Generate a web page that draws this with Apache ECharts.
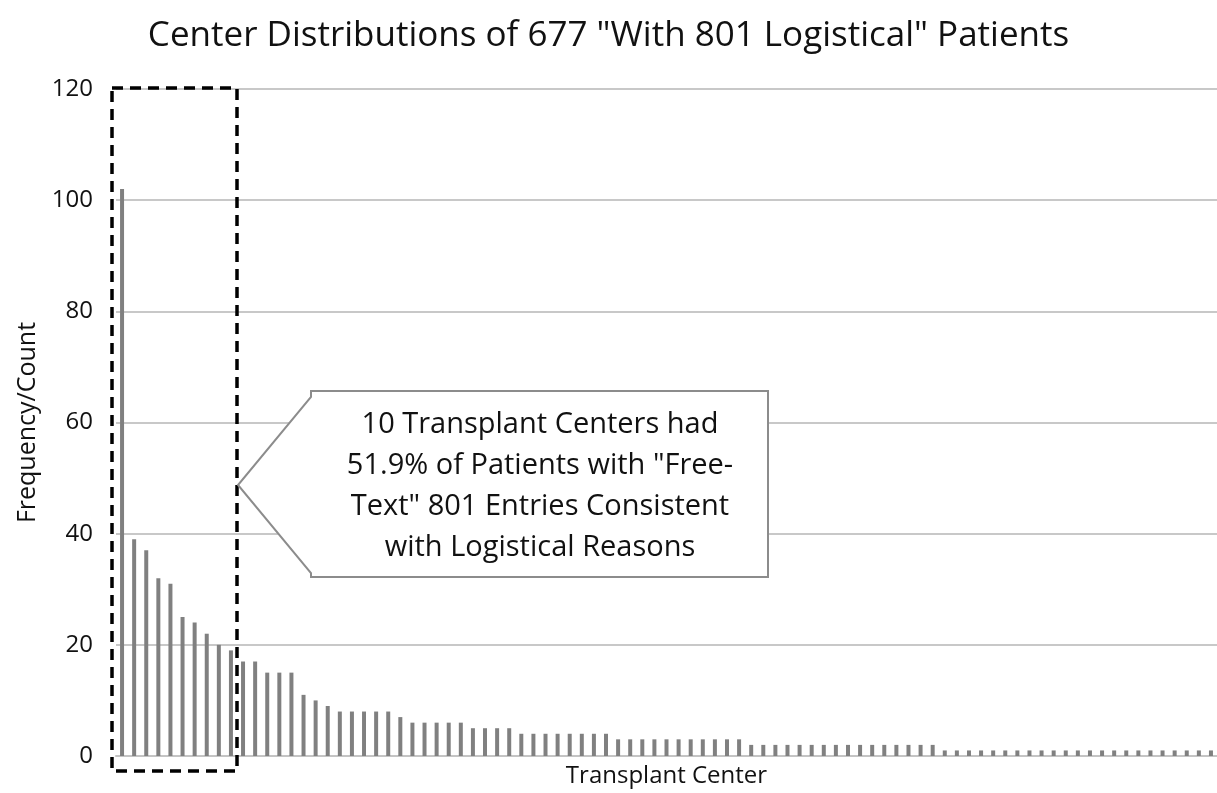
<!DOCTYPE html>
<html>
<head>
<meta charset="utf-8">
<script src="https://cdn.jsdelivr.net/npm/echarts@6/dist/echarts.min.js"></script>
<style>
  html, body { margin: 0; padding: 0; background: #fff; }
  #chart { width: 1217px; height: 793px; }
</style>
</head>
<body>
<div id="chart"></div>
<script>
// patients per transplant center, sorted high to low (91 centers, 677 patients)
var counts = [
    102, 39, 37, 32, 31, 25, 24, 22, 20, 19,
    17, 17, 15, 15, 15, 11, 10, 9, 8, 8, 8, 8, 8, 7, 6, 6, 6, 6, 6,
    5, 5, 5, 5,
    4, 4, 4, 4, 4, 4, 4, 4,
    3, 3, 3, 3, 3, 3, 3, 3, 3, 3, 3,
    2, 2, 2, 2, 2, 2, 2, 2, 2, 2, 2, 2, 2, 2, 2, 2,
    1, 1, 1, 1, 1, 1, 1, 1, 1, 1, 1, 1, 1, 1, 1, 1, 1, 1, 1, 1, 1, 1, 1
];
var centers = counts.map(function(v, i) { return 'C' + (i + 1); });
var yTicks = [0, 20, 40, 60, 80, 100, 120];

var calloutLines = [
    '10 Transplant Centers had',
    '51.9% of Patients with "Free-',
    'Text" 801 Entries Consistent',
    'with Logistical Reasons'
];

var font = 'Open Sans';
var chart = echarts.init(document.getElementById('chart'));

var option = {
    animation: false,
    backgroundColor: '#fff',
    textStyle: { fontFamily: font },
    title: {
        text: 'Center Distributions of 677 "With 801 Logistical" Patients',
        left: 'center',
        top: 14,
        textStyle: { fontFamily: font, fontSize: 35, fontWeight: 'normal', color: '#111' }
    },
    grid: { left: 116, right: -3, top: 89, bottom: 37, containLabel: false },
    xAxis: {
        type: 'category',
        data: centers,
        name: 'Transplant Center',
        nameLocation: 'middle',
        nameGap: 8,
        nameTextStyle: { fontFamily: font, fontSize: 24, color: '#111' },
        axisLine: { lineStyle: { color: '#c4c4c4', width: 2 } },
        axisTick: { show: false },
        axisLabel: { show: false }
    },
    yAxis: {
        type: 'value',
        min: 0,
        max: 120,
        interval: 20,
        name: 'Frequency/Count',
        nameLocation: 'middle',
        nameGap: 76,
        nameTextStyle: { fontFamily: font, fontSize: 25, color: '#111' },
        axisLine: { show: false },
        axisTick: { show: false },
        axisLabel: {
            margin: 23,
            fontSize: 24,
            color: '#111',
            fontFamily: font,
            formatter: function(v) { return yTicks.indexOf(v) >= 0 ? String(v) : ''; }
        },
        splitLine: { lineStyle: { color: '#c8c8c8', width: 2 } }
    },
    series: [{
        type: 'bar',
        data: counts,
        barWidth: 4,
        itemStyle: { color: '#808080' },
        z: 3
    }],
    graphic: [
        {
            type: 'rect',
            shape: { x: 112, y: 88, width: 125, height: 683 },
            style: { fill: 'none', stroke: '#000', lineWidth: 3.5, lineDash: [11, 7] },
            z: 10
        },
        {
            type: 'polygon',
            shape: {
                points: [[311, 391], [768, 391], [768, 577], [311, 577],
                         [311, 573], [238, 485], [311, 397]]
            },
            style: { fill: '#fff', stroke: '#8c8c8c', lineWidth: 2 },
            z: 10
        },
        {
            type: 'text',
            x: 540,
            y: 486,
            style: {
                text: calloutLines.join('\n'),
                fontFamily: font,
                fontSize: 29,
                lineHeight: 41,
                fill: '#111',
                align: 'center',
                verticalAlign: 'middle'
            },
            z: 11
        }
    ]
};

chart.setOption(option);
</script>
</body>
</html>
